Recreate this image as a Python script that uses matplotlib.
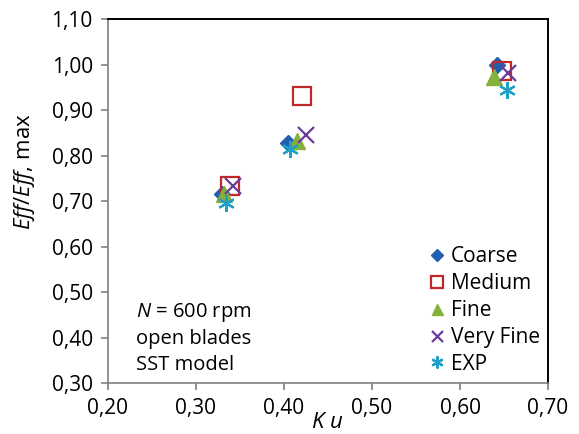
"""Normalised efficiency vs Ku for several mesh refinements and experiment."""

import matplotlib
import matplotlib.pyplot as plt

matplotlib.use("Agg")

plt.rcParams['font.family'] = ['Open Sans', 'DejaVu Sans']
plt.rcParams['mathtext.fontset'] = 'custom'
plt.rcParams['mathtext.it'] = 'Open Sans:italic'
plt.rcParams['mathtext.rm'] = 'Open Sans'

# data
coarse_x = [0.330, 0.405, 0.642]
coarse_y = [0.716, 0.828, 0.999]
medium_x = [0.339, 0.420, 0.648]
medium_y = [0.733, 0.932, 0.986]
fine_x = [0.332, 0.415, 0.639]
fine_y = [0.716, 0.833, 0.973]
vfine_x = [0.342, 0.425, 0.655]
vfine_y = [0.732, 0.846, 0.982]
exp_x = [0.334, 0.407, 0.653]
exp_y = [0.696, 0.814, 0.944]

x_ticks = [0.20, 0.30, 0.40, 0.50, 0.60, 0.70]
y_ticks = [0.30, 0.40, 0.50, 0.60, 0.70, 0.80, 0.90, 1.00, 1.10]

fig = plt.figure(figsize=(5.79, 4.34), dpi=100)
ax = fig.add_axes([0.1865, 0.1175, 0.76, 0.8385])

ax.plot(coarse_x, coarse_y, ls='none', marker='D', ms=8.5,
        color='#2160B0', label='Coarse')
ax.plot(medium_x, medium_y, ls='none', marker='s', ms=12.5, mfc='none',
        mec='#C0282C', mew=1.6, label='Medium')
ax.plot(fine_x, fine_y, ls='none', marker='^', ms=11,
        color='#86B03C', label='Fine')
ax.plot(vfine_x, vfine_y, ls='none', marker='x', ms=11, mew=1.6,
        color='#6A3C9C', label='Very Fine')
ax.plot(exp_x, exp_y, ls='none', marker=(6, 2, 0), ms=12, mew=1.6,
        color='#1EA0C8', label='EXP')

ax.set_xlim(0.20, 0.70)
ax.set_ylim(0.30, 1.10)
ax.set_xticks(x_ticks)
ax.set_yticks(y_ticks)
ax.set_xticklabels([f"{v:.2f}".replace('.', ',') for v in x_ticks])
ax.set_yticklabels([f"{v:.2f}".replace('.', ',') for v in y_ticks])
ax.tick_params(labelsize=15, length=5, width=1.2, color='#808080', pad=6)

for side in ['left', 'bottom']:
    ax.spines[side].set_color('#808080')
    ax.spines[side].set_linewidth(1.2)
for side in ['top', 'right']:
    ax.spines[side].set_color('black')
    ax.spines[side].set_linewidth(1.4)

leg = ax.legend(loc='lower right', frameon=False, fontsize=15,
                markerscale=0.72, handletextpad=0.15, labelspacing=0.28,
                handlelength=1.0, borderaxespad=0.0,
                bbox_to_anchor=(1.0, 0.0))

ax.text(0.063, 0.022, "$\\it{N}$ = 600 rpm\nopen blades\nSST model",
        transform=ax.transAxes, fontsize=14.5, va='bottom', ha='left',
        linespacing=1.38)

fig.text(0.043, 0.605, "$\\it{Eff/Eff}$, max", rotation=90,
         fontsize=16, ha='center', va='center')
fig.text(0.565, 0.002, "$\\it{K\\ u}$", fontsize=16, ha='center', va='bottom')

fig.savefig("out.png", dpi=100)
plt.close(fig)
